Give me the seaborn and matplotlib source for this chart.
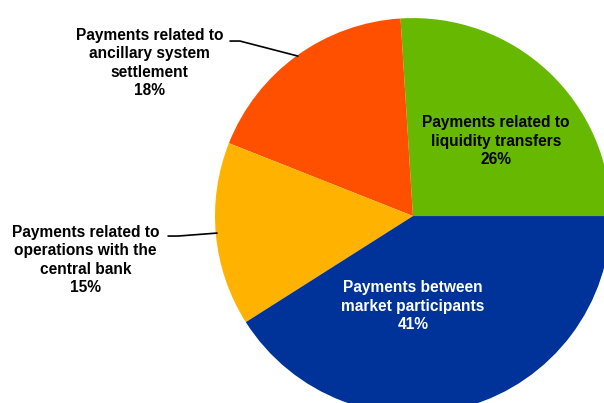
import matplotlib
matplotlib.use("Agg")
import matplotlib.pyplot as plt
import seaborn as sns

sns.set_style("white")
plt.rcParams["font.family"] = ["Liberation Sans", "DejaVu Sans"]

labels = [
    "Payments related to\nliquidity transfers",
    "Payments related to\nancillary system\nsettlement",
    "Payments related to\noperations with the\ncentral bank",
    "Payments between\nmarket participants",
]
shares = [26, 18, 15, 41]
colors = ["#66B800", "#FF5000", "#FFB300", "#003399"]

fig = plt.figure(figsize=(6.04, 4.03), dpi=100)
ax = fig.add_axes([0, 0, 1, 1])
ax.pie(shares, colors=colors, startangle=0, counterclock=True,
       radius=1.0, wedgeprops=dict(linewidth=0))
ax.set_xlim(-2.086, 0.965)
ax.set_ylim(-0.944, 1.091)
ax.set_aspect("equal")
ax.axis("off")

txt = dict(ha="center", va="center", fontsize=11.2, fontweight="bold",
           linespacing=1.27)

# inside labels
ax.text(0.419, 0.379, f"{labels[0]}\n{shares[0]}%", color="black", **txt)
ax.text(0.0, -0.455, f"{labels[3]}\n{shares[3]}%", color="white", **txt)

# outside labels with leader lines
ax.text(-1.33, 0.773, f"{labels[1]}\n{shares[1]}%", color="black", **txt)
ax.plot([-0.924, -0.874, -0.581], [0.884, 0.884, 0.808], color="black", lw=1.2)

ax.text(-1.655, -0.222, f"{labels[2]}\n{shares[2]}%", color="black", **txt)
ax.plot([-1.237, -1.187, -0.99], [-0.101, -0.101, -0.086], color="black", lw=1.2)

fig.savefig("out.png", dpi=100)
